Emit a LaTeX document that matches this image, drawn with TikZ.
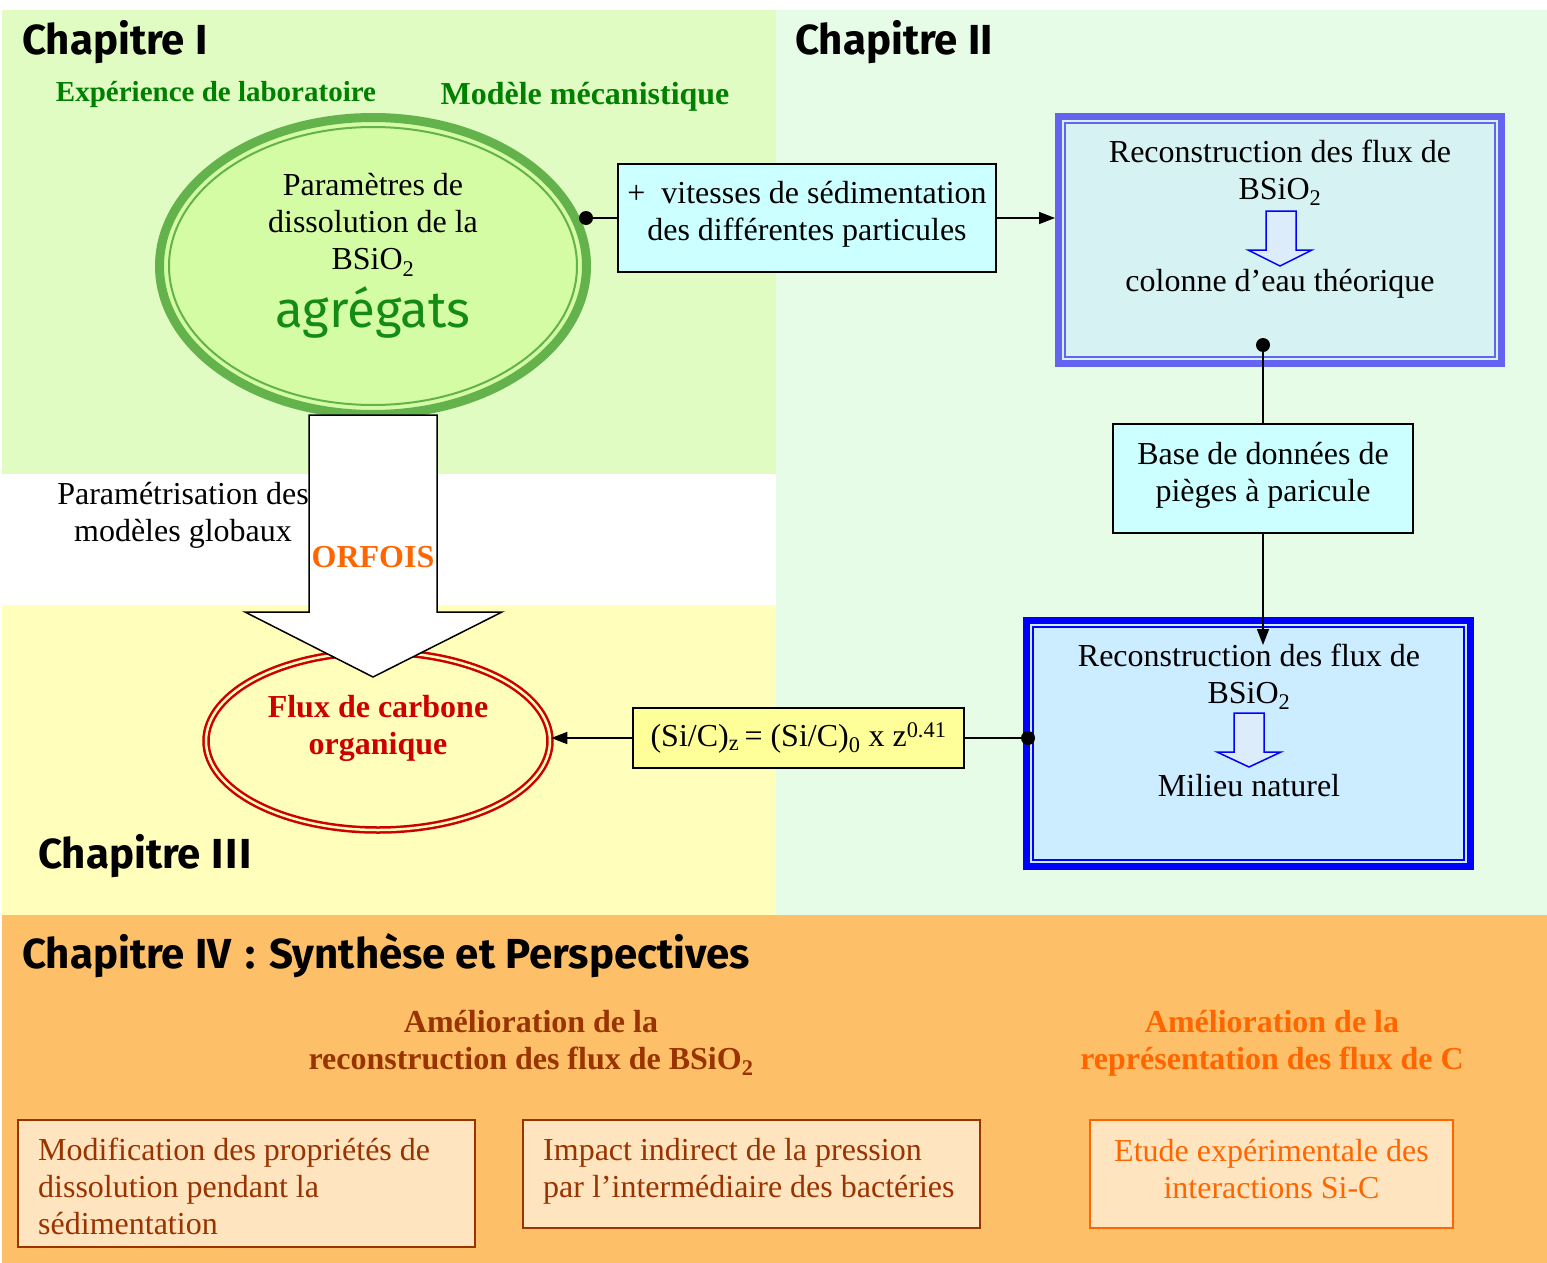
\documentclass[tikz,border=0pt]{standalone}
\usepackage{fontspec}
\setmainfont{Liberation Serif}
\newfontfamily\comic{Fira Sans}
\usetikzlibrary{shapes.geometric,arrows.meta}
\definecolor{cIbg}{RGB}{224,252,194}
\definecolor{cIIbg}{RGB}{230,252,230}
\definecolor{cIIIbg}{RGB}{255,254,186}
\definecolor{cIVbg}{RGB}{253,192,104}
\definecolor{gfill}{RGB}{212,252,164}
\definecolor{gline}{RGB}{100,178,76}
\definecolor{dgreen}{RGB}{0,128,0}
\definecolor{agreen}{RGB}{20,140,20}
\definecolor{cyanfill}{RGB}{204,255,255}
\definecolor{bIfill}{RGB}{214,242,242}
\definecolor{bIline}{RGB}{100,100,240}
\definecolor{bIIfill}{RGB}{204,236,255}
\definecolor{bIIline}{RGB}{0,0,255}
\definecolor{sarrowfill}{RGB}{220,236,250}
\definecolor{yfill}{RGB}{255,255,153}
\definecolor{rline}{RGB}{204,0,0}
\definecolor{orangec}{RGB}{255,102,0}
\definecolor{brownc}{RGB}{153,51,0}
\definecolor{boxfill}{RGB}{255,228,192}
\begin{document}
\begin{tikzpicture}[x=1pt,y=-1pt,
  body/.style={font=\fontsize{32}{37}\selectfont, align=center, inner sep=0},
  bodyb/.style={font=\bfseries\fontsize{32}{37}\selectfont, align=center, inner sep=0},
  chap/.style={font=\comic\bfseries\fontsize{42}{46}\selectfont, anchor=base west, inner sep=0},
  cbox/.style={draw=black, line width=1.5, fill=cyanfill, inner sep=0},
  bbox/.style={draw=brownc, line width=2, fill=boxfill, inner sep=0},
  btext/.style={font=\fontsize{32}{37}\selectfont, text=brownc, align=left, inner sep=0, anchor=north west},
  sarrow/.style={draw=blue, line width=1.5, fill=sarrowfill},
  conn/.style={line width=1.5},
  tip/.style={line width=1.5, -{Triangle[length=16pt,width=12pt]}}
]
\useasboundingbox (0,0) rectangle (1547,1263);
\fill[white] (0,0) rectangle (1547,1263);
% background regions
\fill[cIbg] (2,10) rectangle (776,474);
\fill[cIIbg] (776,10) rectangle (1547,915);
\fill[cIIIbg] (2,605) rectangle (776,915);
\fill[cIVbg] (2,915) rectangle (1547,1263);

% chapter titles
\node[chap] (chI) at (22,55) {Chapitre I};
\node[chap] (chII) at (795,55) {Chapitre II};
\node[chap] (chIII) at (38,868) {Chapitre I\kern2ptI\kern2ptI};
\node[chap] (chIV) at (22,968) {Chapitre IV\,\,:\,\,Synthèse et Perspectives};

% chapter I labels
\node[font=\bfseries\fontsize{29}{34}\selectfont, text=dgreen, inner sep=0] (lab) at (216,95) {Expérience de laboratoire};
\node[font=\bfseries\fontsize{32}{37}\selectfont, text=dgreen, inner sep=0] (meca) at (585,97) {Modèle mécanistique};

% green ellipse
\node[ellipse, fill=gfill, draw=gline, line width=9, minimum width=427, minimum height=297, inner sep=0] (gell) at (373,266) {};
\draw[gline, line width=2] (gell.center) ellipse [x radius=204, y radius=139];
\node[body] (gtxt) at (373,225) {Paramètres de\\dissolution de la\\BSiO\textsubscript{2}};
\node[font=\comic\fontsize{51}{55}\selectfont, text=agreen, inner sep=0] (agr) at (373,313) {agrégats};

% red ellipse
\node[ellipse, draw=rline, line width=2.5, double=cIIIbg, double distance=2.5, minimum width=344, minimum height=178, inner sep=0] (rell) at (378,741) {};
\node[bodyb, text=rline] (rtxt) at (378,728) {Flux de carbone\\organique};

% parametrisation text
\node[body] (param) at (183,515) {Paramétrisation des\\modèles globaux};

% big white arrow
\draw[line width=1.5, fill=white] (309,415) -- (437,415) -- (437,612) -- (502,612) -- (373,677) -- (245,612) -- (309,612) -- cycle;
\node[bodyb, text=orangec] (orf) at (373,557) {ORFOIS};

% sedimentation box
\node[cbox, minimum width=378, minimum height=108] (vbox) at (807,218) {};
\node[body] (vtxt) at (807,214) {+\ \ vitesses de sédimentation\\des différentes particules};

% blue box 1
\node[draw=bIline, line width=7, fill=bIfill, minimum width=443, minimum height=247, inner sep=0] (bI) at (1280,240) {};
\draw[bIline, line width=2] ([shift={(10,10)}]bI.north west) rectangle ([shift={(-10,-10)}]bI.south east);
\node[body] (bIt) at (1280,173) {Reconstruction des flux de\\BSiO\textsubscript{2}};
\node[body] (bIb) at (1280,284) {colonne d’eau théorique};
\draw[sarrow] (1266,211) -- (1296,211) -- (1296,250) -- (1312,250) -- (1280,266) -- (1248,250) -- (1266,250) -- cycle;

% base box
\node[cbox, minimum width=300, minimum height=109] (base) at (1263,478.5) {};
\node[body] (btxt) at (1263,475) {Base de données de\\pièges à paricule};

% blue box 2
\node[draw=bIIline, line width=7, fill=bIIfill, minimum width=444, minimum height=246, inner sep=0] (bII) at (1248.5,743.5) {};
\draw[bIIline, line width=2] ([shift={(10,10)}]bII.north west) rectangle ([shift={(-10,-10)}]bII.south east);
\node[body] (bIIt) at (1249,677) {Reconstruction des flux de\\BSiO\textsubscript{2}};
\node[body] (bIIb) at (1249,786) {Milieu naturel};
\draw[sarrow] (1234,713) -- (1264,713) -- (1264,752) -- (1281,752) -- (1249,767) -- (1217,752) -- (1234,752) -- cycle;

% yellow formula box
\node[body, draw=black, line width=1.5, fill=yfill, minimum width=331, minimum height=60] (ybox) at (798.5,738) {(Si/C)\textsubscript{z}\,= (Si/C)\textsubscript{0} x z\textsuperscript{0.41}};

% connectors
\coordinate (dI) at (586,218);
\draw[conn] (dI) -- (vbox.west);
\fill (dI) circle[radius=7];
\draw[tip] (vbox.east) -- (bI.west |- vbox.east);
\coordinate (dII) at (1263,345);
\draw[conn] (dII) -- (base.north);
\fill (dII) circle[radius=7];
\coordinate (eII) at (1263,645);
\draw[tip] (base.south) -- (eII);
\coordinate (dIII) at (1028,738);
\draw[conn] (dIII) -- (ybox.east);
\fill (dIII) circle[radius=7];
\draw[tip] (ybox.west) -- (ybox.west -| rell.east);

% chapter IV
\node[bodyb, text=brownc] (amI) at (531,1043) {Amélioration de la\\reconstruction des flux de BSiO\textsubscript{2}};
\node[bodyb, text=orangec] (amII) at (1272,1043) {Amélioration de la\\représentation des flux de C};
\node[bbox, minimum width=457, minimum height=127] (bxI) at (246.5,1183.5) {};
\node[btext] (bxIt) at (38,1138) {Modification des propriétés de\\dissolution pendant la\\sédimentation};
\node[bbox, minimum width=457, minimum height=108] (bxII) at (751.5,1174) {};
\node[btext] (bxIIt) at (543,1138) {Impact indirect de la pression\\par l’intermédiaire des bactéries};
\node[bbox, draw=orangec, minimum width=363, minimum height=108] (bxIII) at (1271.5,1174) {};
\node[body, text=orangec] (bxIIIt) at (1271.5,1169) {Etude expérimentale des\\interactions Si-C};
\end{tikzpicture}
\end{document}
